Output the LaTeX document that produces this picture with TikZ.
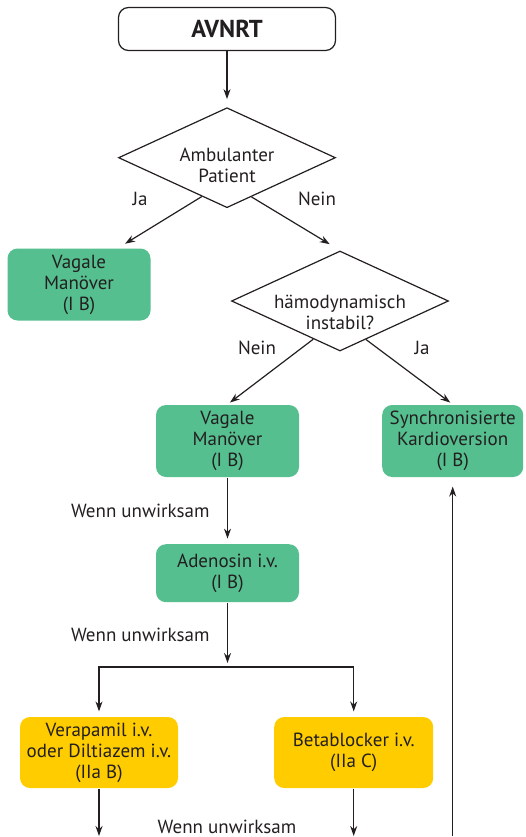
\documentclass[tikz,border=0pt]{standalone}
\usepackage{fontspec}
\setmainfont{PT Sans}
\usetikzlibrary{positioning,shapes.geometric,arrows.meta}
\definecolor{FlowGreen}{HTML}{55BF8F}
\definecolor{FlowYellow}{HTML}{FFCC00}
\definecolor{FlowInk}{HTML}{231F20}

\begin{document}
\begin{tikzpicture}[>={Stealth[length=10pt,width=7pt]},x=1pt,y=-1pt,
    line width=1.2pt,node distance=3mm]
  \tikzstyle{txt}=[font=\fontsize{19}{21}\selectfont,text=FlowInk,align=center]
  \tikzstyle{startbox}=[draw=FlowInk,fill=white,rounded corners=10pt,
    minimum width=217pt,minimum height=43pt,
    font=\fontsize{24.5}{26}\selectfont\bfseries,text=FlowInk]
  \tikzstyle{decision}=[diamond,draw=FlowInk,fill=white,inner sep=0pt,
    minimum width=217pt,minimum height=100pt]
  \tikzstyle{greenbox}=[txt,fill=FlowGreen,rounded corners=10pt,inner sep=2pt,
    minimum width=143pt,minimum height=72pt]
  \tikzstyle{yellowbox}=[greenbox,fill=FlowYellow,minimum width=158pt,minimum height=71pt]
  \tikzstyle{flow}=[->,draw=FlowInk]
  \useasboundingbox (0,0) rectangle (525,837);
  \coordinate (base) at (0,836);

  % start and first question
  \node[startbox] (avnrt) at (227,29) {AVNRT};
  \node[decision,below=56pt of avnrt,
    label={[txt,yshift=-8pt]center:{Ambulanter\\Patient}}] (amb) {};
  \node[greenbox] (vagal1) at (79,284.5) {Vagale\\Manöver\\(I B)};

  % second question
  \node[decision,label={[txt,yshift=-11pt]center:{hämodynamisch\\instabil?}}]
    (instab) at (340,301) {};
  \node[greenbox] (vagal2) at (227.5,441) {Vagale\\Manöver\\(I B)};
  \node[greenbox,right=82pt of vagal2,minimum width=141pt] (kardio)
    {Synchronisierte\\Kardioversion\\(I B)};
  \node[greenbox,below=66pt of vagal2,minimum height=58pt] (adeno)
    {Adenosin i.v.\\(I B)};

  % drug options
  \node[yellowbox] (verap) at (99,752.5) {Verapamil i.v.\\oder Diltiazem i.v.\\(IIa B)};
  \node[yellowbox,right=95pt of verap,minimum width=159pt] (beta)
    {Betablocker i.v.\\(IIa C)};
  \coordinate (split) at (227.5,667);

  % answers
  \node[txt] (amb-ja) at (140,199) {Ja};
  \node[txt] (amb-nein) at (317,199) {Nein};
  \node[txt] (inst-nein) at (257,348) {Nein};
  \node[txt] (inst-ja) at (422,348) {Ja};

  \draw[flow,shorten >=8pt] (avnrt) -- (amb);
  \draw[flow,shorten >=8pt] (amb.-123) -- (vagal1.43);
  \draw[flow,shorten >=12pt] (amb.-58) -- (instab.north);
  \draw[flow,shorten >=3pt] (instab.-125) -- (vagal2.north);
  \draw[flow,shorten >=3pt] (instab.-56) -- (kardio.north);
  \draw[flow,shorten >=5pt] (vagal2) -- node[txt,left=14pt] {Wenn unwirksam} (adeno);
  \draw[flow,shorten >=4pt] (adeno) -- node[txt,left=14pt] {Wenn unwirksam} (split);
  \draw[flow,shorten >=5pt] (split) -| (verap.north);
  \draw[flow,shorten >=5pt] (split) -| (beta.north);
  \draw[flow] (verap) -- (verap.south |- base);
  \draw[flow] (beta) -- (beta.south |- base);
  \draw[flow,shorten >=9pt] (kardio.south |- base) -- (kardio);
  \node[txt,anchor=base] (retry) at (227,833) {Wenn unwirksam};
\end{tikzpicture}
\end{document}
